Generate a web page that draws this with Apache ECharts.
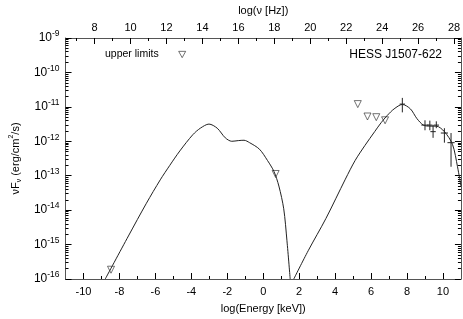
<!DOCTYPE html>
<html><head><meta charset="utf-8">
<script src="https://cdn.jsdelivr.net/npm/echarts@6/dist/echarts.min.js"></script>
<style>html,body{margin:0;padding:0;background:#fff}#c{width:463px;height:319px}</style>
</head><body><div id="c"></div>
<script>
// ---- axis ticks ----
const energyTicks = [-10, -8, -6, -4, -2, 0, 2, 4, 6, 8, 10];
const energyMinor = [-9, -7, -5, -3, -1, 1, 3, 5, 7, 9];
const nuTicks = [8, 10, 12, 14, 16, 18, 20, 22, 24, 26, 28];
const nuMinor = [7, 9, 11, 13, 15, 17, 19, 21, 23, 25, 27];
const fluxExpTicks = [-16, -15, -14, -13, -12, -11, -10, -9];
const LOG_HZ_PER_KEV = 17.383;

// ---- model curve (log10 E [keV], log10 nuFnu) ----
const syncLogE    = [-8.79, -7.5, -6.5, -5.73, -5.2, -4.64, -3.92, -3.5, -3.02, -2.56, -2.11, -1.75, -1.39, -1.07, -0.76, -0.21, 0.24, 0.60, 0.87, 1.14, 1.32, 1.50];
const syncLogFlux = [-16.0, -14.75, -13.8, -13.12, -12.7, -12.28, -11.81, -11.62, -11.50, -11.62, -11.90, -12.0, -11.98, -11.97, -12.04, -12.23, -12.56, -12.88, -13.30, -13.96, -14.89, -16.0];
const icLogE    = [1.70, 2.5, 3.49, 4.57, 5.11, 5.66, 6.2, 6.56, 6.9, 7.28, 7.74, 8.19, 8.55, 8.91, 9.27, 9.63, 10.08, 10.53, 10.81, 11.0];
const icLogFlux = [-16.0, -15.18, -14.24, -13.10, -12.56, -12.12, -11.72, -11.46, -11.25, -11.06, -10.93, -11.06, -11.34, -11.53, -11.56, -11.56, -11.72, -12.09, -12.74, -13.3];

// ---- upper limits ----
const ulLogE    = [-8.47, 0.69, 5.26, 5.80, 6.29, 6.78];
const ulLogFlux = [-15.73, -12.95, -10.92, -11.28, -11.30, -11.39];

// ---- data points with error bars ----
const ptLogE    = [7.74, 9.0, 9.27, 9.45, 9.63, 10.08, 10.45];
const ptLogFlux = [-10.92, -11.53, -11.53, -11.72, -11.53, -11.76, -12.04];
const ptLow     = [-11.16, -11.68, -11.68, -11.90, -11.62, -12.04, -12.74];
const ptHigh    = [-10.74, -11.39, -11.40, -11.53, -11.42, -11.62, -11.76];
const ptXerr    = [0.15, 0.2, 0.15, 0.15, 0.15, 0.2, 0.2];

const fluxMinor = [];
fluxExpTicks.slice(0, -1).forEach(n => { for (let k = 2; k <= 9; k++) fluxMinor.push(n + Math.log10(k)); });

const FONT = 'Liberation Sans, Arial, sans-serif';
const AX = { onZero: false, lineStyle: { color: '#555', width: 1 } };
const NOAX = { show: false, onZero: false };
const minorTick = vals => ({ show: true, inside: true, length: 3, customValues: vals, lineStyle: { color: '#000' } });
const majorTick = vals => ({ show: true, inside: true, length: 6, customValues: vals, lineStyle: { color: '#000' } });
const triStyle = { color: '#fff', borderColor: '#222', borderWidth: 0.8 };

const chart = echarts.init(document.getElementById('c'), null, { renderer: 'canvas' });
chart.setOption({
  animation: false,
  backgroundColor: '#fff',
  textStyle: { fontFamily: FONT },
  grid: { left: 56, right: 1, top: 33, bottom: 36 },
  title: { text: 'HESS J1507-622', right: 16, top: 44,
    textStyle: { fontSize: 12, fontWeight: 'normal', color: '#000', fontFamily: FONT } },
  legend: { left: 100, top: 44, align: 'right', itemWidth: 7, itemHeight: 7,
    itemStyle: triStyle,
    textStyle: { fontSize: 10.5, color: '#000', fontFamily: FONT, padding: [0, 15, 0, 0] },
    data: [{ name: 'upper limits', icon: 'path://M0,0L10,0L5,9Z', itemStyle: triStyle }] },
  xAxis: [
    { type: 'value', position: 'bottom', min: -11, max: 11,
      name: 'log(Energy [keV])', nameLocation: 'middle', nameGap: 24,
      nameTextStyle: { fontSize: 11, color: '#000', fontFamily: FONT },
      axisLine: AX, splitLine: { show: false },
      axisTick: majorTick(energyTicks),
      axisLabel: { customValues: energyTicks, fontSize: 11, color: '#000', margin: 7, fontFamily: FONT } },
    { type: 'value', position: 'bottom', min: -11, max: 11,
      axisLine: NOAX, splitLine: { show: false },
      axisTick: minorTick(energyMinor), axisLabel: { show: false } },
    { type: 'value', position: 'top', min: -11 + LOG_HZ_PER_KEV, max: 11 + LOG_HZ_PER_KEV,
      name: 'log(\u03bd [Hz])', nameLocation: 'middle', nameGap: 22,
      nameTextStyle: { fontSize: 11, color: '#000', fontFamily: FONT },
      axisLine: AX, splitLine: { show: false },
      axisTick: majorTick(nuTicks),
      axisLabel: { customValues: nuTicks, fontSize: 11, color: '#000', margin: 5, fontFamily: FONT } },
    { type: 'value', position: 'top', min: -11 + LOG_HZ_PER_KEV, max: 11 + LOG_HZ_PER_KEV,
      axisLine: NOAX, splitLine: { show: false },
      axisTick: minorTick(nuMinor), axisLabel: { show: false } }
  ],
  yAxis: [
    { type: 'value', position: 'left', min: -16, max: -9, interval: 1,
      name: '{a|\u03bdF}{sub|\u03bd}{a| (erg/cm}{sup|2}{a|/s)}',
      nameLocation: 'middle', nameGap: 41, nameRotate: 90,
      nameTextStyle: { color: '#000', rich: {
        a: { fontSize: 11, fontFamily: FONT, color: '#000', lineHeight: 15 },
        sub: { fontSize: 7, fontFamily: FONT, color: '#000', lineHeight: 15, verticalAlign: 'bottom' },
        sup: { fontSize: 7, fontFamily: FONT, color: '#000', lineHeight: 15, verticalAlign: 'top' } } },
      axisLine: AX, splitLine: { show: false },
      axisTick: { show: true, inside: true, length: 6, lineStyle: { color: '#000' } },
      axisLabel: { margin: 6, formatter: v => '{b|10}{s|' + Math.round(v) + '}',
        rich: { b: { fontSize: 12, fontFamily: FONT, color: '#000', lineHeight: 17 },
                s: { fontSize: 8.5, fontFamily: FONT, color: '#000', lineHeight: 17, verticalAlign: 'top' } } } },
    { type: 'value', position: 'left', min: -16, max: -9, interval: 1,
      axisLine: NOAX, splitLine: { show: false },
      axisTick: minorTick(fluxMinor), axisLabel: { show: false } },
    { type: 'value', position: 'right', min: -16, max: -9, interval: 1,
      axisLine: AX, splitLine: { show: false },
      axisTick: { show: true, inside: true, length: 6, lineStyle: { color: '#000' } },
      axisLabel: { show: false } },
    { type: 'value', position: 'right', min: -16, max: -9, interval: 1,
      axisLine: NOAX, splitLine: { show: false },
      axisTick: minorTick(fluxMinor), axisLabel: { show: false } }
  ],
  series: [
    { type: 'line', name: 'sync', xAxisIndex: 0, yAxisIndex: 0, showSymbol: false, smooth: 0.3,
      lineStyle: { color: '#222', width: 1 },
      data: syncLogE.map((x, i) => [x, syncLogFlux[i]]) },
    { type: 'line', name: 'ic', xAxisIndex: 0, yAxisIndex: 0, showSymbol: false, smooth: 0.3,
      lineStyle: { color: '#222', width: 1 },
      data: icLogE.map((x, i) => [x, icLogFlux[i]]) },
    { type: 'scatter', name: 'upper limits', xAxisIndex: 0, yAxisIndex: 0,
      symbol: 'path://M0,0L10,0L5,9Z', symbolSize: 7,
      itemStyle: triStyle,
      data: ulLogE.map((x, i) => [x, ulLogFlux[i]]) },
    { type: 'custom', name: 'points', xAxisIndex: 0, yAxisIndex: 0,
      encode: { x: 0, y: 1 },
      data: ptLogE.map((x, i) => [x, ptLogFlux[i], ptLow[i], ptHigh[i], ptXerr[i]]),
      renderItem: (params, api) => {
        const x = api.value(0), y = api.value(1), lo = api.value(2), hi = api.value(3), xe = api.value(4);
        const a = api.coord([x, lo]), b = api.coord([x, hi]);
        const c = api.coord([x - xe, y]), d = api.coord([x + xe, y]);
        const st = { stroke: '#222', lineWidth: 1 };
        return { type: 'group', children: [
          { type: 'line', shape: { x1: a[0], y1: a[1], x2: b[0], y2: b[1] }, style: st },
          { type: 'line', shape: { x1: c[0], y1: c[1], x2: d[0], y2: d[1] }, style: st } ] };
      } }
  ]
});
</script>
</body></html>
